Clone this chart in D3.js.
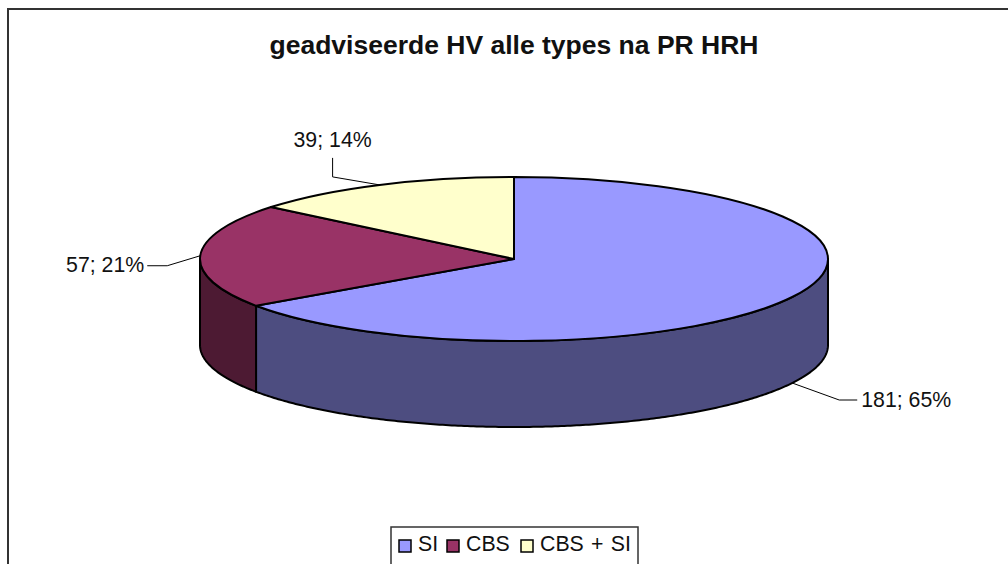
<!DOCTYPE html>
<html>
<head>
<meta charset="utf-8">
<script src="https://cdn.jsdelivr.net/npm/d3@7"></script>
<style>
  html, body { margin: 0; padding: 0; background: #fff; }
  svg { display: block; }
  text { font-family: "Liberation Sans", Arial, sans-serif; fill: #111; }
</style>
</head>
<body>
<div id="chart"></div>
<script>
var categories = ["SI", "CBS", "CBS + SI"];
var values = [181, 57, 39];
var percents = ["65%", "21%", "14%"];
var topColors = ["#9999FF", "#993366", "#FFFFCC"];
var sideColors = ["#4D4D80", "#4D1A33", "#80806A"];

var width = 1008, height = 564;
var cx = 514, cy = 259, rx = 314, ry = 82, depth = 86;

var svg = d3.select("#chart").append("svg")
    .attr("width", width)
    .attr("height", height);

///////////// FRAME /////////////
// the chart area is wider and taller than the window, right and bottom edges are cut off
svg.append("rect")
    .attr("x", 8).attr("y", 9)
    .attr("width", 1012).attr("height", 570)
    .attr("fill", "#fff")
    .attr("stroke", "#333")
    .attr("stroke-width", 2);

svg.append("text")
    .attr("x", cx).attr("y", 54)
    .attr("text-anchor", "middle")
    .attr("font-size", 26.5)
    .attr("font-weight", "bold")
    .text("geadviseerde HV alle types na PR HRH");

///////////// PIE /////////////
var x = d3.scaleLinear().domain([-1, 1]).range([cx - rx, cx + rx]);
var y = d3.scaleLinear().domain([-1, 1]).range([cy - ry, cy + ry]);

var slices = d3.pie().sort(null)(values);

// angle 0 is at the top, going clockwise, same as d3.arc
function px(a) { return x(Math.sin(a)); }
function py(a) { return y(-Math.cos(a)); }

var wall = d3.area()
    .x(function(a) { return px(a); })
    .y0(function(a) { return py(a); })
    .y1(function(a) { return py(a) + depth; });

slices.forEach(function(s) {
    var a0 = Math.max(s.startAngle, Math.PI / 2);
    var a1 = Math.min(s.endAngle, Math.PI * 1.5);
    if (a1 <= a0) return;
    var steps = d3.range(a0, a1, 0.01).concat([a1]);
    svg.append("path")
        .attr("d", wall(steps))
        .attr("fill", sideColors[s.index])
        .attr("stroke", "#000")
        .attr("stroke-width", 2)
        .attr("stroke-linejoin", "round");
});

var arc = d3.arc().innerRadius(0).outerRadius(rx);

svg.append("g")
    .attr("transform", "translate(" + cx + "," + cy + ") scale(1," + (ry / rx) + ")")
  .selectAll("path")
    .data(slices)
    .enter().append("path")
    .attr("d", arc)
    .attr("fill", function(d) { return topColors[d.index]; })
    .attr("stroke", "#000")
    .attr("stroke-width", 2)
    .attr("stroke-linejoin", "round")
    .attr("vector-effect", "non-scaling-stroke");

///////////// LABELS /////////////
// leader bends and text spot per slice, relative to the slice midpoint on the rim
var leaders = [
    { lift: depth, bend: [[47, 17], [65, 17]], tx: 69, ty: 24, anchor: "start" },
    { lift: 0, bend: [[-33, 10], [-53, 10]], tx: -56, ty: 16, anchor: "end" },
    { lift: 0, bend: [[-47, -8], [-47, -27]], tx: -47, ty: -38, anchor: "middle" }
];

slices.forEach(function(s, i) {
    var mid = (s.startAngle + s.endAngle) / 2;
    var mx = px(mid), my = py(mid) + leaders[i].lift;
    var pts = [[mx, my]].concat(leaders[i].bend.map(function(b) { return [mx + b[0], my + b[1]]; }));
    svg.append("path")
        .attr("d", d3.line()(pts))
        .attr("fill", "none")
        .attr("stroke", "#000")
        .attr("stroke-width", 1);
    svg.append("text")
        .attr("x", mx + leaders[i].tx)
        .attr("y", my + leaders[i].ty)
        .attr("text-anchor", leaders[i].anchor)
        .attr("font-size", 21.3)
        .text(values[i] + "; " + percents[i]);
});

///////////// LEGEND /////////////
var legendX = [399, 447, 521];

svg.append("rect")
    .attr("x", 391).attr("y", 527)
    .attr("width", 247).attr("height", 50)
    .attr("fill", "#fff")
    .attr("stroke", "#333")
    .attr("stroke-width", 1.5);

var legend = svg.selectAll("g.legend")
    .data(categories)
    .enter().append("g")
    .attr("class", "legend")
    .attr("transform", function(d, i) { return "translate(" + legendX[i] + ",540)"; });

legend.append("rect")
    .attr("width", 12).attr("height", 12)
    .attr("fill", function(d, i) { return topColors[i]; })
    .attr("stroke", "#000")
    .attr("stroke-width", 1.5);

legend.append("text")
    .attr("x", 19).attr("y", 11)
    .attr("font-size", 21.3)
    .attr("word-spacing", 1.4)
    .text(function(d) { return d; });
</script>
</body>
</html>
